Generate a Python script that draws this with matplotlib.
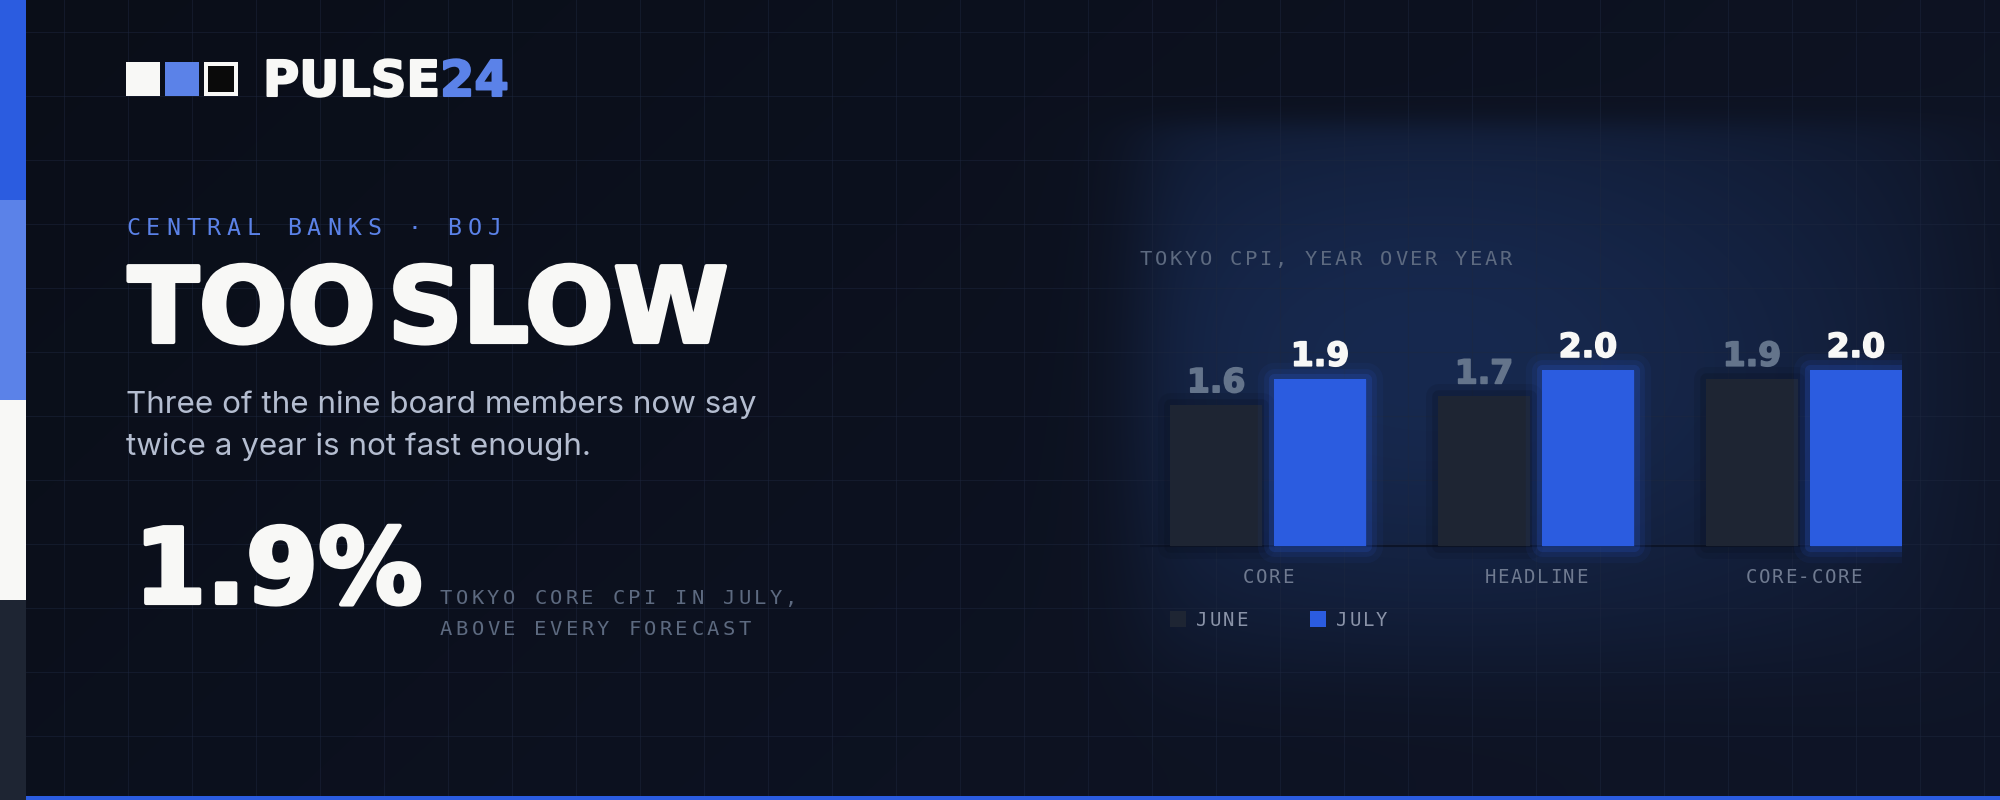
import numpy as np
import matplotlib
matplotlib.use("Agg")
import matplotlib.pyplot as plt
import matplotlib.patheffects as pe
from matplotlib.colors import to_rgb
from matplotlib.patches import Rectangle
from matplotlib.font_manager import FontProperties, findfont, get_font

# data
categories = ["CORE", "HEADLINE", "CORE-CORE"]
june = [1.6, 1.7, 1.9]
july = [1.9, 2.0, 2.0]
series_names = ["JUNE", "JULY"]

BG_DARK = "#0a0e18"
BG_LIGHT = "#0f1527"
GLOW = "#17294f"
BLUE = "#2b5ce0"
LIGHT_BLUE = "#5b82e8"
WHITE = "#f8f8f6"
JUNE_C = "#1e2533"
GRAY = "#5d6a80"
MONO = "DejaVu Sans Mono"
HEAVY = "DejaVu Sans"

W, H = 2000, 800
fig = plt.figure(figsize=(20, 8), dpi=100)
ax = fig.add_axes([0, 0, 1, 1])

# background with a soft glow behind the chart
yy, xx = np.mgrid[0:H, 0:W].astype(float)
t = xx / W * 0.7 + yy / H * 0.3
base = (1 - t)[..., None] * np.array(to_rgb(BG_DARK)) + t[..., None] * np.array(to_rgb(BG_LIGHT))
sig = lambda z: 1 / (1 + np.exp(-z))
box = sig((xx - 1140) / 25) * sig((1965 - xx) / 40) * sig((yy - 122) / 8) * sig((680 - yy) / 30)
rad = np.exp(-(((xx - 1430) / 560) ** 2 + ((yy - 360) / 330) ** 2))
g = box * rad
img = base * (1 - g[..., None]) + np.array(to_rgb(GLOW)) * g[..., None]
ax.imshow(img, extent=[0, W, H, 0], aspect="auto", zorder=0, interpolation="bilinear")
ax.set_xlim(0, W)
ax.set_ylim(H, 0)
ax.axis("off")

for gx in range(64, W, 64):
    ax.axvline(gx, color="#1e2840", lw=0.8, alpha=0.45, zorder=1)
for gy in range(32, H, 64):
    ax.axhline(gy, color="#1e2840", lw=0.8, alpha=0.45, zorder=1)

# left stripe and bottom rule
for k, c in enumerate([BLUE, LIGHT_BLUE, WHITE, JUNE_C]):
    ax.add_patch(Rectangle((0, k * 200), 26, 200, color=c, lw=0, zorder=2))
ax.add_patch(Rectangle((26, 796), W - 26, 4, color=BLUE, lw=0, zorder=2))

heavy_fx = lambda c, w: [pe.withStroke(linewidth=w, foreground=c)]


def heavy(x, y, s, size_px, color, stroke=2.0):
    # one text; returns the x where the next text should start
    prop = FontProperties(family=HEAVY, weight="bold", size=size_px * 0.72)
    ax.text(x, y, s, fontproperties=prop, color=color, ha="left", va="baseline",
            zorder=3, path_effects=heavy_fx(color, stroke))
    font = get_font(findfont(prop))
    font.set_size(size_px, 72)
    return x + sum(font.load_char(ord(ch)).linearHoriAdvance / 65536 for ch in s)


def mono(x, y, s, size_px, pitch, color, align="left"):
    cw = 0.602 * size_px
    if align == "center":
        x = x - ((len(s) - 1) * pitch + cw) / 2
    for i, ch in enumerate(s):
        ax.text(x + cw / 2 + i * pitch, y, ch, ha="center", va="baseline",
                fontsize=size_px * 0.72, family=MONO, color=color, zorder=3)


# logo
ax.add_patch(Rectangle((126, 62), 34, 34, color=WHITE, lw=0, zorder=3))
ax.add_patch(Rectangle((165, 62), 34, 34, color=LIGHT_BLUE, lw=0, zorder=3))
ax.add_patch(Rectangle((206, 64), 30, 30, fc="#0a0a0a", ec=WHITE, lw=4 * 0.72, zorder=3))
x_end = heavy(263, 96, "PULSE", 49.4, WHITE, 1.5)
heavy(x_end, 96, "24", 49.4, LIGHT_BLUE, 1.5)

# left text block
mono(126, 235, "CENTRAL BANKS · BOJ", 23.3, 20.1, LIGHT_BLUE)
x_end = heavy(128, 342, "TOO", 104, WHITE, 3.0)
heavy(x_end + 12, 342, "SLOW", 104, WHITE, 3.0)
sub_font = ["Inter", "DejaVu Sans"]
ax.text(126, 413, "Three of the nine board members now say", fontsize=22.6,
        family=sub_font, color="#b4bdd0", va="baseline", zorder=3)
ax.text(126, 455, "twice a year is not fast enough.", fontsize=22.6,
        family=sub_font, color="#b4bdd0", va="baseline", zorder=3)
heavy(134, 603, f"{july[0]:.1f}%", 104, WHITE, 3.0)
mono(440, 604, "TOKYO CORE CPI IN JULY,", 20.5, 15.7, GRAY)
mono(440, 635, "ABOVE EVERY FORECAST", 20.5, 15.7, GRAY)

# chart
mono(1140, 265, "TOKYO CPI, YEAR OVER YEAR", 20.5, 15.0, GRAY)

bx = fig.add_axes([0.57, 0.25, 0.381, 0.375])
bx.patch.set_alpha(0)
bx.axis("off")
bx.set_xlim(-0.478, 2.366)
bx.set_ylim(-0.614, 2.795)

pos = np.arange(len(categories))
off, width = 0.194, 0.343
bx.axhline(0, color="#0c1428", lw=1.5, zorder=1)

june_fx = [pe.Stroke(linewidth=18, foreground="#080d1a", alpha=0.12, joinstyle="round"),
           pe.Stroke(linewidth=9, foreground="#080d1a", alpha=0.2, joinstyle="round"),
           pe.Normal()]
july_fx = [pe.Stroke(linewidth=24, foreground=BLUE, alpha=0.06, joinstyle="round"),
           pe.Stroke(linewidth=15, foreground=BLUE, alpha=0.1, joinstyle="round"),
           pe.Stroke(linewidth=8, foreground=BLUE, alpha=0.18, joinstyle="round"),
           pe.Normal()]
b1 = bx.bar(pos - off, june, width, color=JUNE_C, lw=0, zorder=2)
b2 = bx.bar(pos + off, july, width, color=BLUE, lw=0, zorder=2)
for r in b1:
    r.set_path_effects(june_fx)
for r in b2:
    r.set_path_effects(july_fx)

for xs, vals, col in [(pos - off, june, "#64748b"), (pos + off, july, WHITE)]:
    for xv, v in zip(xs, vals):
        bx.annotate(f"{v:.1f}", (xv, v), xytext=(0, 13 * 0.72), textcoords="offset points",
                    ha="center", va="baseline", fontsize=33 * 0.72, family=HEAVY,
                    weight="bold", color=col, zorder=4, path_effects=heavy_fx(col, 1.2))

inv = ax.transData.inverted()
for i, name in enumerate(categories):
    px = inv.transform(bx.transData.transform((i, 0)))[0]
    mono(px, 583, name, 19, 13.1, "#6f7a90", align="center")

# legend
for name, col, lx in zip(series_names, [JUNE_C, BLUE], [1170, 1310]):
    ax.add_patch(Rectangle((lx, 611), 16, 16, color=col, lw=0, zorder=3))
    mono(lx + 26, 626, name, 19, 13.3, "#8a93a8")

fig.savefig("out.png", dpi=100, facecolor=BG_DARK)
